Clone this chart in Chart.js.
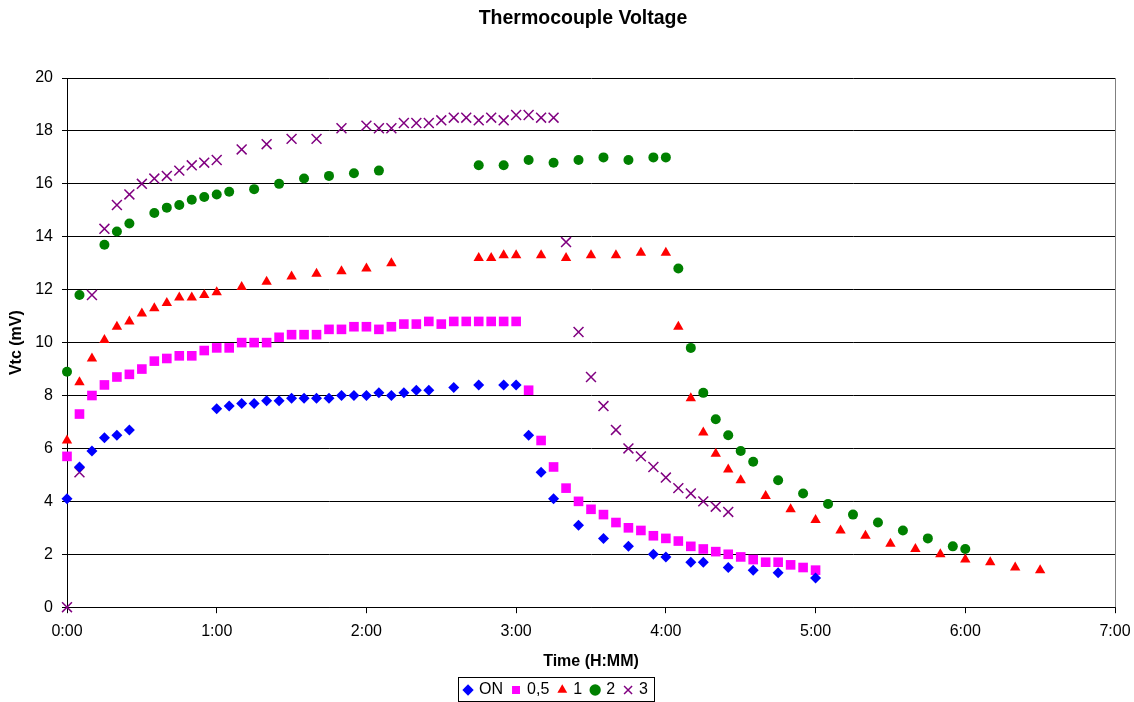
<!DOCTYPE html>
<html>
<head>
<meta charset="utf-8">
<script src="https://cdn.jsdelivr.net/npm/chart.js@4/dist/chart.umd.min.js"></script>
<style>
  html, body { margin: 0; padding: 0; background: #fff; }
  #wrap { width: 1134px; height: 702px; }
</style>
</head>
<body>
<div id="wrap"><canvas id="chart"></canvas></div>
<script>
// time in minutes since start, voltage in mV
var onTimes = [0, 5, 10, 15, 20, 25, 60, 65, 70, 75, 80, 85, 90, 95, 100, 105, 110, 115, 120, 125, 130, 135, 140, 145,
    155, 165, 175, 180, 185, 190, 195, 205, 215, 225, 235, 240, 250, 255, 265, 275, 285, 300];
var onValues = [4.1, 5.3, 5.9, 6.4, 6.5, 6.7, 7.5, 7.6, 7.7, 7.7, 7.8, 7.8, 7.9, 7.9, 7.9, 7.9, 8.0, 8.0, 8.0, 8.1, 8.0, 8.1, 8.2, 8.2,
    8.3, 8.4, 8.4, 8.4, 6.5, 5.1, 4.1, 3.1, 2.6, 2.3, 2.0, 1.9, 1.7, 1.7, 1.5, 1.4, 1.3, 1.1];

var halfTimes = [0, 5, 10, 15, 20, 25, 30, 35, 40, 45, 50, 55, 60, 65, 70, 75, 80, 85, 90, 95, 100, 105, 110,
    115, 120, 125, 130, 135, 140, 145, 150, 155, 160, 165, 170, 175, 180,
    185, 190, 195, 200, 205, 210, 215, 220, 225, 230, 235, 240, 245, 250, 255, 260, 265, 270, 275, 280, 285, 290, 295, 300];
var halfValues = [5.7, 7.3, 8.0, 8.4, 8.7, 8.8, 9.0, 9.3, 9.4, 9.5, 9.5, 9.7, 9.8, 9.8, 10.0, 10.0, 10.0, 10.2, 10.3, 10.3, 10.3, 10.5, 10.5,
    10.6, 10.6, 10.5, 10.6, 10.7, 10.7, 10.8, 10.7, 10.8, 10.8, 10.8, 10.8, 10.8, 10.8,
    8.2, 6.3, 5.3, 4.5, 4.0, 3.7, 3.5, 3.2, 3.0, 2.9, 2.7, 2.6, 2.5, 2.3, 2.2, 2.1, 2.0, 1.9, 1.8, 1.7, 1.7, 1.6, 1.5, 1.4];

var oneTimes = [0, 5, 10, 15, 20, 25, 30, 35, 40, 45, 50, 55, 60, 70, 80, 90, 100, 110, 120, 130,
    165, 170, 175, 180, 190, 200, 210, 220, 230, 240,
    245, 250, 255, 260, 265, 270, 280, 290, 300, 310, 320, 330, 340, 350, 360, 370, 380, 390];
var oneValues = [6.3, 8.5, 9.4, 10.1, 10.6, 10.8, 11.1, 11.3, 11.5, 11.7, 11.7, 11.8, 11.9, 12.1, 12.3, 12.5, 12.6, 12.7, 12.8, 13.0,
    13.2, 13.2, 13.3, 13.3, 13.3, 13.2, 13.3, 13.3, 13.4, 13.4,
    10.6, 7.9, 6.6, 5.8, 5.2, 4.8, 4.2, 3.7, 3.3, 2.9, 2.7, 2.4, 2.2, 2.0, 1.8, 1.7, 1.5, 1.4];

var twoTimes = [0, 5, 15, 20, 25, 35, 40, 45, 50, 55, 60, 65, 75, 85, 95, 105, 115, 125,
    165, 175, 185, 195, 205, 215, 225, 235, 240,
    245, 250, 255, 260, 265, 270, 275, 285, 295, 305, 315, 325, 335, 345, 355, 360];
var twoValues = [8.9, 11.8, 13.7, 14.2, 14.5, 14.9, 15.1, 15.2, 15.4, 15.5, 15.6, 15.7, 15.8, 16.0, 16.2, 16.3, 16.4, 16.5,
    16.7, 16.7, 16.9, 16.8, 16.9, 17.0, 16.9, 17.0, 17.0,
    12.8, 9.8, 8.1, 7.1, 6.5, 5.9, 5.5, 4.8, 4.3, 3.9, 3.5, 3.2, 2.9, 2.6, 2.3, 2.2];

var threeTimes = [0, 5, 10, 15, 20, 25, 30, 35, 40, 45, 50, 55, 60, 70, 80, 90, 100, 110, 120,
    125, 130, 135, 140, 145, 150, 155, 160, 165, 170, 175, 180, 185, 190, 195,
    200, 205, 210, 215, 220, 225, 230, 235, 240, 245, 250, 255, 260, 265];
var threeValues = [0, 5.1, 11.8, 14.3, 15.2, 15.6, 16.0, 16.2, 16.3, 16.5, 16.7, 16.8, 16.9, 17.3, 17.5, 17.7, 17.7, 18.1, 18.2,
    18.1, 18.1, 18.3, 18.3, 18.3, 18.4, 18.5, 18.5, 18.4, 18.5, 18.4, 18.6, 18.6, 18.5, 18.5,
    13.8, 10.4, 8.7, 7.6, 6.7, 6.0, 5.7, 5.3, 4.9, 4.5, 4.3, 4.0, 3.8, 3.6];

var seriesNames = ["ON", "0,5", "1", "2", "3"];
var xTicks = [0, 60, 120, 180, 240, 300, 360, 420];
var yTicks = [0, 2, 4, 6, 8, 10, 12, 14, 16, 18, 20];

var FONT = "Arial, 'Liberation Sans', sans-serif";

function toPoints(times, values) {
    var pts = [];
    for (var i = 0; i < times.length; i++) {
        pts.push({ x: times[i], y: values[i] });
    }
    return pts;
}

function hmm(v) {
    var h = Math.floor(v / 60);
    var m = v % 60;
    return h + ":" + (m < 10 ? "0" + m : m);
}

// nudge title and legend to where Excel put them
var blockShift = {
    id: "blockShift",
    afterLayout: function (chart) {
        if (chart.titleBlock) {
            chart.titleBlock.left += 32;
        }
        if (chart.legend) {
            chart.legend.right -= 21;
        }
    }
};

// box round the legend and the grey plot frame on the right
var framePlugin = {
    id: "frame",
    afterDraw: function (chart) {
        var ctx = chart.ctx;
        var a = chart.chartArea;
        ctx.save();
        ctx.strokeStyle = "#808080";
        ctx.lineWidth = 1;
        ctx.beginPath();
        ctx.moveTo(Math.round(a.right) + 0.5, a.top);
        ctx.lineTo(Math.round(a.right) + 0.5, a.bottom);
        ctx.stroke();

        var boxes = chart.legend.legendHitBoxes;
        if (boxes && boxes.length) {
            var l = Infinity, r = -Infinity, t = Infinity, b = -Infinity;
            boxes.forEach(function (hb) {
                l = Math.min(l, hb.left);
                r = Math.max(r, hb.left + hb.width);
                t = Math.min(t, hb.top);
                b = Math.max(b, hb.top + hb.height);
            });
            ctx.strokeStyle = "#000";
            ctx.strokeRect(Math.round(l - 7) + 0.5, Math.round(t - 5) + 0.5, Math.round(r - l + 13), Math.round(b - t + 8));
        }
        ctx.restore();
    }
};

var ds = [
    { label: seriesNames[0], data: toPoints(onTimes, onValues), pointStyle: "rectRot", pointRadius: 5.5,
      backgroundColor: "#0000FF", borderColor: "#0000FF", borderWidth: 0, clip: false },
    { label: seriesNames[1], data: toPoints(halfTimes, halfValues), pointStyle: "rect", pointRadius: 6.8,
      backgroundColor: "#FF00FF", borderColor: "#FF00FF", borderWidth: 0, clip: false },
    { label: seriesNames[2], data: toPoints(oneTimes, oneValues), pointStyle: "triangle", pointRadius: 6,
      backgroundColor: "#FF0000", borderColor: "#FF0000", borderWidth: 0, clip: false },
    { label: seriesNames[3], data: toPoints(twoTimes, twoValues), pointStyle: "circle", pointRadius: 5,
      backgroundColor: "#008000", borderColor: "#008000", borderWidth: 0, clip: false },
    { label: seriesNames[4], data: toPoints(threeTimes, threeValues), pointStyle: "crossRot", pointRadius: 7,
      backgroundColor: "#800080", borderColor: "#800080", borderWidth: 1.5, clip: false }
];

new Chart(document.getElementById("chart"), {
    type: "scatter",
    data: { datasets: ds },
    plugins: [blockShift, framePlugin],
    options: {
        responsive: true,
        maintainAspectRatio: false,
        animation: false,
        events: [],
        layout: { padding: { left: 0, right: 0, top: 0, bottom: -6 } },
        font: { family: FONT },
        plugins: {
            tooltip: { enabled: false },
            title: {
                display: true,
                text: "Thermocouple Voltage",
                color: "#000",
                font: { family: FONT, size: 19.5, weight: "bold" },
                padding: { top: 7, bottom: 47.6 }
            },
            legend: {
                display: true,
                position: "bottom",
                labels: {
                    usePointStyle: true,
                    boxWidth: 6,
                    boxHeight: 8,
                    padding: 10,
                    color: "#000",
                    font: { family: FONT, size: 16 }
                }
            }
        },
        scales: {
            x: {
                type: "linear",
                min: 0,
                max: 420,
                afterBuildTicks: function (s) { s.ticks = xTicks.map(function (v) { return { value: v }; }); },
                afterFit: function (s) {
                    s.height = 64.8;
                    s.paddingLeft = 0;
                    s.paddingRight = 19;
                },
                ticks: { callback: function (v) { return hmm(v); }, color: "#000", padding: 9,
                         font: { family: FONT, size: 16 }, maxRotation: 0 },
                grid: { drawOnChartArea: false, drawTicks: true, tickLength: 6, color: "#000" },
                border: { color: "#000", width: 1 },
                title: { display: true, text: "Time (H:MM)", color: "#000",
                         font: { family: FONT, size: 16, weight: "bold" }, padding: { top: 4, bottom: 1 } }
            },
            y: {
                min: 0,
                max: 20,
                afterBuildTicks: function (s) { s.ticks = yTicks.map(function (v) { return { value: v }; }); },
                afterFit: function (s) { s.width = 67; },
                ticks: { color: "#000", padding: 9, font: { family: FONT, size: 16 } },
                grid: { color: "#000", tickLength: 5, lineWidth: 1 },
                border: { color: "#000", width: 1 },
                title: { display: true, text: "Vtc (mV)", color: "#000",
                         font: { family: FONT, size: 16, weight: "bold" }, padding: { top: 7, bottom: 0 } }
            }
        }
    }
});
</script>
</body>
</html>
